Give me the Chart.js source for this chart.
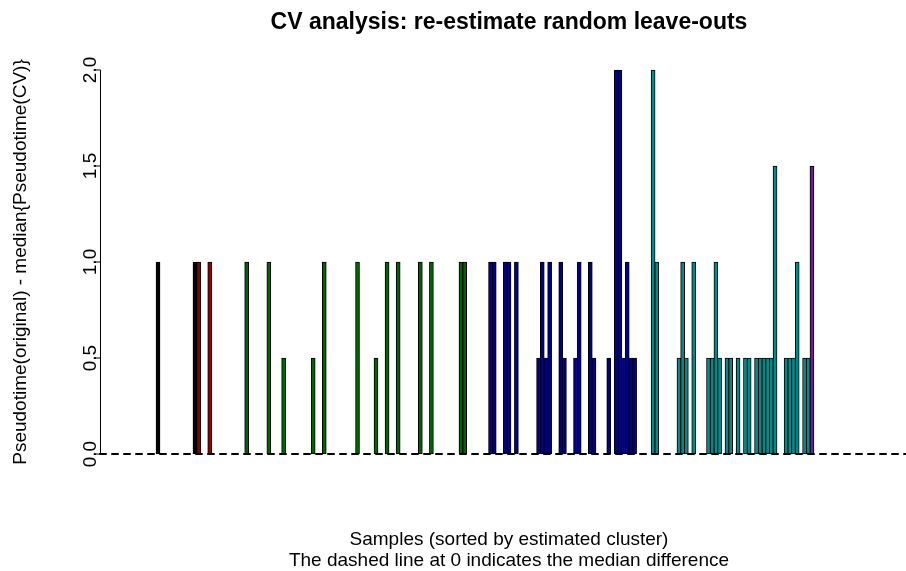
<!DOCTYPE html>
<html>
<head>
<meta charset="utf-8">
<script src="https://cdn.jsdelivr.net/npm/chart.js@4.4.1/dist/chart.umd.min.js"></script>
<style>
html,body{margin:0;padding:0;overflow:hidden;background:#fff;width:906px;height:571px}
#wrap{width:906px;height:571px;overflow:hidden;position:relative}
canvas{display:block}
</style>
</head>
<body>
<div id="wrap"><canvas id="c" width="920" height="571"></canvas></div>
<script>
// ---- text ----
const chartTitle = 'CV analysis: re-estimate random leave-outs';
const yTitle = 'Pseudotime(original) - median{Pseudotime(CV)}';
const xTitleLines = ['Samples (sorted by estimated cluster)', 'The dashed line at 0 indicates the median difference'];

// ---- data ----
const nSamples = 205;                       // samples on the x axis (sorted by cluster)
const yTicks = [0, 0.5, 1, 1.5, 2];
const yTickLabels = ['0.0', '0.5', '1.0', '1.5', '2.0'];
const medianDifference = 0;

// samples with a non-zero difference (all other samples are 0)
const sampleIndex = [
  8, 18,
  19, 22,
  32, 38, 42, 50, 53, 62, 67, 70, 73, 79, 82, 90, 91,
  98, 99, 102, 103, 105, 111, 112, 113, 114, 117, 118, 121, 122, 125, 126, 130, 132, 133, 134, 135, 136, 137,
  142, 143, 149, 150, 151, 153, 157, 158, 159, 160, 162, 163, 165, 167, 168, 170, 171, 172, 173, 174, 175, 178, 179, 180, 181, 183, 184,
  185
];
const difference = [
  1, 1,
  1, 1,
  1, 1, 0.5, 0.5, 1, 1, 0.5, 1, 1, 1, 1, 1, 1,
  1, 1, 1, 1, 1, 0.5, 1, 0.5, 1, 1, 0.5, 0.5, 1, 1, 0.5, 0.5, 2, 2, 0.5, 1, 0.5, 0.5,
  2, 1, 0.5, 1, 0.5, 1, 0.5, 0.5, 1, 0.5, 0.5, 0.5, 0.5, 0.5, 0.5, 0.5, 0.5, 0.5, 0.5, 0.5, 1.5, 0.5, 0.5, 0.5, 1, 0.5, 0.5,
  1.5
];
const cluster = [
  0, 0,
  1, 1,
  2, 2, 2, 2, 2, 2, 2, 2, 2, 2, 2, 2, 2,
  3, 3, 3, 3, 3, 3, 3, 3, 3, 3, 3, 3, 3, 3, 3, 3, 3, 3, 3, 3, 3, 3,
  4, 4, 4, 4, 4, 4, 4, 4, 4, 4, 4, 4, 4, 4, 4, 4, 4, 4, 4, 4, 4, 4, 4, 4, 4, 4, 4,
  5
];
const clusterColours = ['#000000', '#8B0000', '#006400', '#00008B', '#008B8B', '#68228B'];

// ---- build ----
const points = sampleIndex.map((s, i) => ({ x: s, y: difference[i] }));
const fills = cluster.map(c => clusterColours[c]);
const pad = 0.04 * nSamples;

const FONT = '"Liberation Sans", Arial, sans-serif';

const rDecor = {
  id: 'rDecor',
  afterDatasetsDraw(chart) {
    const { ctx, chartArea: a, scales: { y } } = chart;
    ctx.save();
    // dashed median line
    const y0 = y.getPixelForValue(medianDifference);
    ctx.strokeStyle = '#000';
    ctx.lineWidth = 2;
    ctx.lineCap = 'round';
    ctx.setLineDash([6, 6]);
    ctx.beginPath();
    ctx.moveTo(a.left, y0);
    ctx.lineTo(a.right, y0);
    ctx.stroke();
    ctx.setLineDash([]);
    ctx.lineCap = 'butt';

    // y axis (R style)
    ctx.lineWidth = 1;
    const ax = a.left + 0.5;
    const yTop = y.getPixelForValue(yTicks[yTicks.length - 1]);
    const yBot = y.getPixelForValue(yTicks[0]);
    ctx.beginPath();
    ctx.moveTo(ax, yTop);
    ctx.lineTo(ax, yBot);
    yTicks.forEach(v => {
      const py = y.getPixelForValue(v);
      ctx.moveTo(ax, py);
      ctx.lineTo(ax - 7, py);
    });
    ctx.stroke();

    ctx.fillStyle = '#000';
    ctx.font = '19px ' + FONT;
    ctx.textAlign = 'center';
    ctx.textBaseline = 'alphabetic';
    yTicks.forEach((v, i) => {
      ctx.save();
      ctx.translate(96, y.getPixelForValue(v));
      ctx.rotate(-Math.PI / 2);
      ctx.fillText(yTickLabels[i], 0, 0);
      ctx.restore();
    });

    // y title
    ctx.save();
    ctx.translate(26, (a.top + a.bottom) / 2);
    ctx.rotate(-Math.PI / 2);
    ctx.textBaseline = 'alphabetic';
    ctx.fillText(yTitle, 0, 0);
    ctx.restore();

    // title
    const cx = (a.left + a.right) / 2;
    ctx.font = 'bold 23px ' + FONT;
    ctx.fillText(chartTitle, cx, 29);

    // x title lines
    ctx.font = '19px ' + FONT;
    ctx.fillText(xTitleLines[0], cx, 545);
    ctx.fillText(xTitleLines[1], cx, 566);
    ctx.restore();
  }
};

new Chart(document.getElementById('c'), {
  type: 'bar',
  data: {
    datasets: [{
      data: points,
      backgroundColor: fills,
      borderColor: '#000',
      borderWidth: 1,
      borderSkipped: false,
      barThickness: 4,
      grouped: false
    }]
  },
  options: {
    responsive: false,
    devicePixelRatio: 1,
    animation: false,
    events: [],
    layout: { padding: { left: 100, right: 2, top: 54.6, bottom: 101.6 } },
    plugins: { legend: { display: false }, title: { display: false }, tooltip: { enabled: false } },
    scales: {
      x: { type: 'linear', min: 0.5 - pad, max: nSamples + 0.5 + pad, display: false, offset: false },
      y: { min: -0.08, max: 2.08, display: false }
    }
  },
  plugins: [rDecor]
});
</script>
</body>
</html>
